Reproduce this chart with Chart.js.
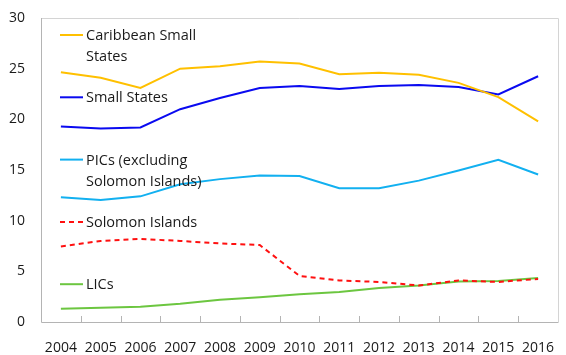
<!DOCTYPE html>
<html>
<head>
<meta charset="utf-8">
<script src="https://cdn.jsdelivr.net/npm/chart.js@4/dist/chart.umd.min.js"></script>
<style>
html, body { margin: 0; padding: 0; background: #fff; }
#wrap { width: 566px; height: 355px; }
</style>
</head>
<body>
<div id="wrap"><canvas id="graph1" width="566" height="355"></canvas></div>
<script>
var years = ['2004', '2005', '2006', '2007', '2008', '2009', '2010', '2011', '2012', '2013', '2014', '2015', '2016'];
var caribbean = [24.65, 24.1, 23.1, 25.0, 25.25, 25.7, 25.5, 24.45, 24.6, 24.4, 23.6, 22.2, 19.8];
var smallStates = [19.3, 19.1, 19.2, 21.0, 22.1, 23.1, 23.3, 23.0, 23.3, 23.4, 23.2, 22.45, 24.25];
var pics = [12.3, 12.05, 12.4, 13.6, 14.1, 14.45, 14.4, 13.2, 13.2, 13.95, 14.95, 16.0, 14.55];
var solomon = [7.45, 8.0, 8.2, 8.0, 7.75, 7.6, 4.55, 4.1, 3.95, 3.6, 4.1, 3.95, 4.25];
var lics = [1.3, 1.4, 1.5, 1.8, 2.2, 2.45, 2.75, 2.95, 3.35, 3.6, 4.0, 4.05, 4.35];
var yTicks = [0, 5, 10, 15, 20, 25, 30];

var fontName = '"Open Sans", sans-serif';

// legend drawn inside the plot, Excel style
var insideLegend = {
  id: 'insideLegend',
  afterDraw: function (chart) {
    var ctx = chart.ctx;
    var area = chart.chartArea;
    ctx.save();
    ctx.font = '14.5px ' + fontName;
    ctx.fillStyle = '#1a1a1a';
    ctx.textBaseline = 'middle';
    chart.data.datasets.forEach(function (ds, i) {
      var y = area.top + 17 + i * 62.3;
      ctx.strokeStyle = ds.borderColor;
      ctx.lineWidth = ds.borderWidth;
      ctx.setLineDash(ds.borderDash || []);
      ctx.beginPath();
      ctx.moveTo(60, y);
      ctx.lineTo(83, y);
      ctx.stroke();
      ds.legendLines.forEach(function (t, j) {
        ctx.fillText(t, 86, y + 1 + j * 21);
      });
    });
    ctx.restore();
  }
};

// box around plot + inward tick marks at category edges
var frame = {
  id: 'frame',
  beforeDatasetsDraw: function (chart) {
    var ctx = chart.ctx;
    var a = chart.chartArea;
    var x = chart.scales.x;
    ctx.save();
    ctx.lineWidth = 1;
    ctx.strokeStyle = '#d4d4d4';
    ctx.beginPath();
    ctx.moveTo(a.left, a.top + 0.5);
    ctx.lineTo(a.right + 0.5, a.top + 0.5);
    ctx.lineTo(a.right + 0.5, a.bottom);
    ctx.stroke();
    ctx.strokeStyle = '#b4b4b4';
    ctx.beginPath();
    ctx.moveTo(a.left + 0.5, a.top);
    ctx.lineTo(a.left + 0.5, a.bottom + 0.5);
    ctx.lineTo(a.right + 0.5, a.bottom + 0.5);
    ctx.stroke();
    var half = (x.getPixelForValue(1) - x.getPixelForValue(0)) / 2;
    ctx.beginPath();
    for (var i = 1; i < years.length; i++) {
      var px = Math.round(x.getPixelForValue(i) - half) + 0.5;
      ctx.moveTo(px, a.bottom);
      ctx.lineTo(px, a.bottom - 6);
    }
    ctx.stroke();
    ctx.restore();
  }
};

function line(label, data, color, lines, dash) {
  return {
    label: label,
    data: data,
    borderColor: color,
    backgroundColor: color,
    borderWidth: 2,
    borderDash: dash || [],
    pointRadius: 0,
    tension: 0,
    fill: false,
    legendLines: lines
  };
}

var context = document.getElementById('graph1').getContext('2d');
var chart = new Chart(context, {
  type: 'line',
  data: {
    labels: years,
    datasets: [
      line('Caribbean Small States', caribbean, '#FFC000', ['Caribbean Small', 'States']),
      line('Small States', smallStates, '#0A0AF0', ['Small States']),
      line('PICs (excluding Solomon Islands)', pics, '#12B0F0', ['PICs (excluding', 'Solomon Islands)']),
      line('Solomon Islands', solomon, '#FF1010', ['Solomon Islands'], [5, 4]),
      line('LICs', lics, '#6CC640', ['LICs'])
    ]
  },
  options: {
    responsive: false,
    animation: false,
    layout: { padding: { top: 18, right: 8, left: 0, bottom: 0 } },
    plugins: { legend: { display: false }, tooltip: { enabled: false } },
    scales: {
      x: {
        offset: true,
        grid: { display: false, drawTicks: false },
        border: { display: false },
        ticks: { color: '#1a1a1a', font: { family: fontName, size: 14 }, padding: 18, maxRotation: 0, autoSkip: false },
        afterFit: function (s) { s.height = 33; s.paddingLeft = 0; s.paddingRight = 0; }
      },
      y: {
        min: 0,
        max: 30,
        afterBuildTicks: function (s) { s.ticks = yTicks.map(function (v) { return { value: v }; }); },
        grid: { display: false, drawTicks: false },
        border: { display: false },
        ticks: { color: '#1a1a1a', font: { family: fontName, size: 14 }, padding: 16 },
        afterFit: function (s) { s.width = 41; s.paddingTop = 0; s.paddingBottom = 0; }
      }
    }
  },
  plugins: [frame, insideLegend]
});
</script>
</body>
</html>
